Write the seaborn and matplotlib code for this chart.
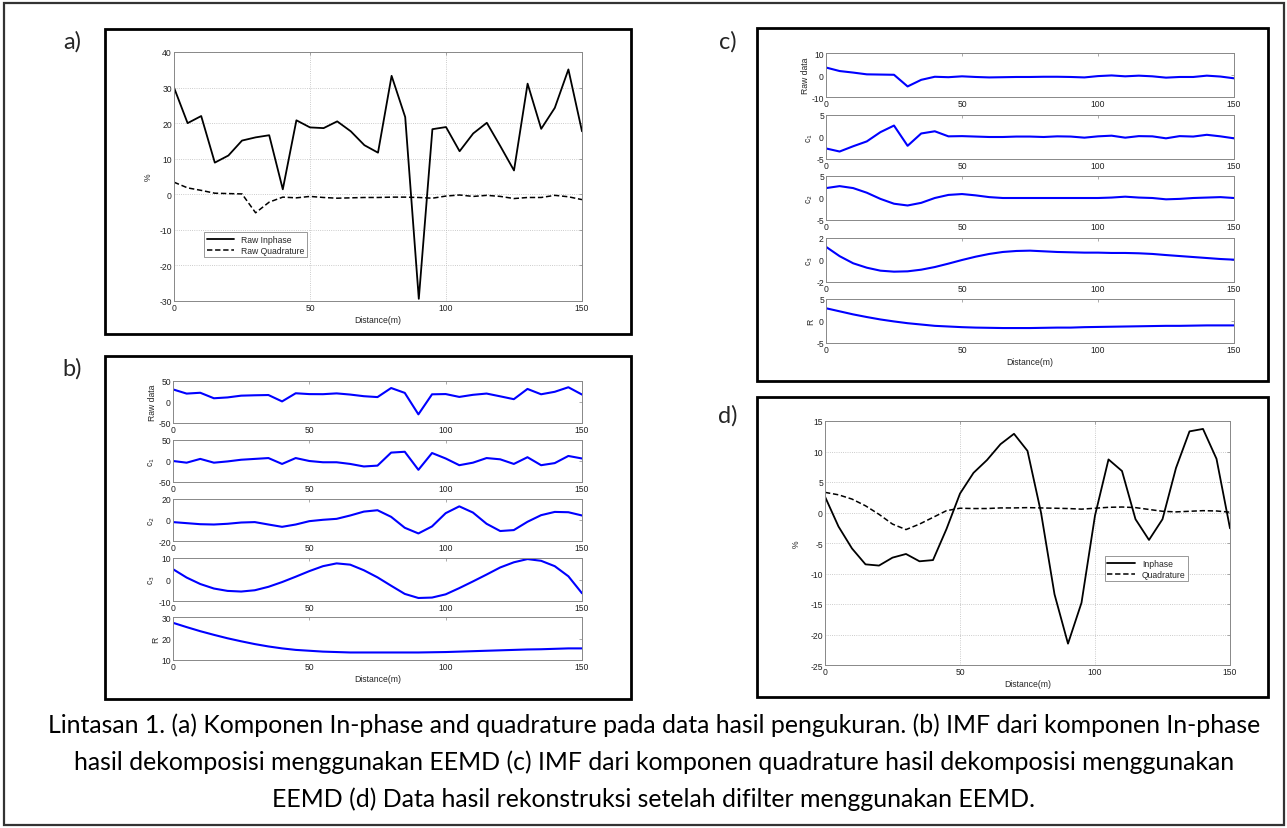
import numpy as np
import pandas as pd
import matplotlib
matplotlib.use('Agg')
import matplotlib.pyplot as plt
import seaborn as sns
from matplotlib.patches import Rectangle

sns.set_theme(style='white')
plt.rcParams['font.family'] = ['Liberation Sans', 'DejaVu Sans']
plt.rcParams['axes.unicode_minus'] = False

W, H = 1287, 829

# distance (m), one reading every 5 m
distance = list(range(0, 155, 5))

# (a) raw measurements
raw_inphase = [30, 20, 22, 8.9, 10.9, 15.1, 16, 16.6, 1.4, 20.8, 18.8, 18.6, 20.5, 17.7, 13.8, 11.7,
               33.3, 21.7, -29.4, 18.3, 18.9, 12.1, 17.1, 20.1, 13.5, 6.7, 31.1, 18.4, 24.3, 35.1, 17.7]
raw_quad = [3.4, 1.8, 1.1, 0.3, 0.2, 0.1, -5.2, -2.2, -0.8, -1.0, -0.6, -0.9, -1.1, -1.0, -0.9, -0.9,
            -0.8, -0.8, -0.9, -1.1, -0.5, -0.2, -0.6, -0.3, -0.6, -1.2, -0.9, -0.9, -0.3, -0.7, -1.5]

# (b) EEMD of in-phase
inp_c1 = [0, -4, 5, -4, -1, 3, 5, 7, -7, 7, 0, -3, -3, -7, -13, -11,
          20, 22, -21, 19, 6, -10, -4, 7, 4, -7, 9, -10, -5, 12, 6]
inp_c2 = [-2, -3, -4, -4.3, -3.6, -2.4, -2, -4.3, -6.5, -4.3, -1.1, 0.2, 1.1, 4.3, 8, 9.3,
          3, -7.4, -12.8, -6.1, 6.5, 13, 7.1, -3.6, -10.5, -9.6, -1.7, 4.6, 7.7, 7.4, 4.3]
inp_c3 = [4.8, 0.9, -2.1, -4.2, -5.3, -5.6, -5, -3.4, -1.2, 1.3, 3.9, 6.2, 7.5, 6.9, 4.3, 1,
          -2.9, -6.7, -8.6, -8.4, -6.9, -4, -0.9, 2.3, 5.6, 8, 9.5, 8.7, 6.2, 1.5, -6.4]
inp_r = [27.3, 25.3, 23.4, 21.7, 20.1, 18.7, 17.4, 16.3, 15.4, 14.7, 14.3, 13.9, 13.7, 13.5, 13.5, 13.5,
         13.5, 13.5, 13.5, 13.6, 13.7, 13.9, 14.1, 14.3, 14.5, 14.7, 14.9, 15.0, 15.2, 15.4, 15.4]

# (c) EEMD of quadrature
quad_c1 = [-2.6, -3.3, -2.1, -1.0, 1.1, 2.6, -2.0, 0.8, 1.3, 0.15, 0.2, 0.1, 0, 0, 0.1, 0.1,
           0, 0.15, 0.1, -0.15, 0.15, 0.3, -0.15, 0.2, 0.15, -0.3, 0.2, 0.1, 0.5, 0.15, -0.3]
quad_c2 = [2.25, 2.7, 2.25, 1.2, -0.2, -1.3, -1.7, -1.1, 0, 0.7, 0.9, 0.6, 0.2, 0, 0, 0,
           0, 0, 0, 0, 0, 0.1, 0.3, 0.1, 0, -0.3, -0.2, 0, 0.1, 0.2, 0]
quad_c3 = [1.2, 0.35, -0.3, -0.7, -0.97, -1.06, -1.03, -0.88, -0.64, -0.33, 0, 0.3, 0.55, 0.73, 0.82, 0.85,
           0.79, 0.73, 0.7, 0.67, 0.67, 0.64, 0.64, 0.61, 0.55, 0.45, 0.36, 0.27, 0.18, 0.09, 0.03]
quad_r = [2.9, 2.2, 1.5, 0.9, 0.35, -0.1, -0.5, -0.8, -1.1, -1.25, -1.4, -1.5, -1.55, -1.6, -1.6, -1.6,
          -1.55, -1.5, -1.5, -1.4, -1.35, -1.3, -1.25, -1.2, -1.15, -1.1, -1.1, -1.05, -1.0, -1.0, -1.0]

# (d) reconstructed after filtering
rec_inphase = [2.6, -2.3, -5.9, -8.5, -8.7, -7.4, -6.8, -8.0, -7.8, -2.7, 3.1, 6.5, 8.6, 11.2, 12.9, 10.1,
               0, -13.4, -21.5, -14.8, -0.5, 8.7, 6.8, -1.1, -4.5, -1.1, 7.3, 13.3, 13.7, 8.8, -2.6]
rec_quad = [3.3, 2.9, 2.2, 1.1, -0.3, -1.9, -2.8, -1.9, -0.8, 0.3, 0.7, 0.65, 0.65, 0.75, 0.75, 0.8,
            0.75, 0.7, 0.65, 0.55, 0.7, 0.85, 0.9, 0.8, 0.5, 0.2, 0.1, 0.2, 0.3, 0.25, 0.05]

caption = [
    'Lintasan 1. (a) Komponen In-phase and quadrature pada data hasil pengukuran. (b) IMF dari komponen In-phase',
    'hasil dekomposisi menggunakan EEMD (c) IMF dari komponen quadrature hasil dekomposisi menggunakan',
    'EEMD (d) Data hasil rekonstruksi setelah difilter menggunakan EEMD.',
]

df = pd.DataFrame({'dist': distance,
                   'raw_inphase': raw_inphase, 'raw_quad': raw_quad,
                   'inp_c1': inp_c1, 'inp_c2': inp_c2, 'inp_c3': inp_c3, 'inp_r': inp_r,
                   'quad_c1': quad_c1, 'quad_c2': quad_c2, 'quad_c3': quad_c3, 'quad_r': quad_r,
                   'rec_inphase': rec_inphase, 'rec_quad': rec_quad})

FS = 6.2


def px(x0, y0, x1, y1):
    return [x0 / W, 1 - y1 / H, (x1 - x0) / W, (y1 - y0) / H]


def box(x0, y0, x1, y1, lw=2.0, color='black'):
    fig.patches.append(Rectangle((x0 / W, 1 - y1 / H), (x1 - x0) / W, (y1 - y0) / H,
                                 transform=fig.transFigure, fill=False, lw=lw, ec=color))


def style_ax(ax, fs=FS):
    for s in ax.spines.values():
        s.set_color('#888888')
        s.set_linewidth(0.7)
    ax.tick_params(direction='in', length=2.5, width=0.5, color='#888888',
                   labelsize=fs, labelcolor='#222222', pad=1.5, top=True, right=True)
    ax.set_xlim(0, 150)
    ax.set_xticks([0, 50, 100, 150])


fig = plt.figure(figsize=(W / 100, H / 100), dpi=100)

# frames
box(4, 4, 1284, 826, lw=1.6, color='#333333')
box(105, 30, 631, 335)
box(105, 357, 631, 700)
box(757, 29, 1268, 382)
box(757, 398, 1268, 698)

for lab, x, y in [('a)', 72, 42), ('b)', 72, 369), ('c)', 728, 42), ('d)', 728, 416)]:
    fig.text(x / W, 1 - y / H, lab, ha='center', va='center', fontsize=17, family='Lato')

# ---- (a)
ax = fig.add_axes(px(174, 53, 582, 302))
sns.lineplot(data=df, x='dist', y='raw_inphase', ax=ax, color='black', lw=1.3, label='Raw Inphase')
sns.lineplot(data=df, x='dist', y='raw_quad', ax=ax, color='black', lw=1.1, ls=(0, (3.5, 1.8)),
             label='Raw Quadrature')
style_ax(ax)
ax.set_ylim(-30, 40)
ax.set_yticks(range(-30, 41, 10))
ax.grid(True, ls=':', color='#bbbbbb', lw=0.6)
ax.set_xlabel('Distance(m)', fontsize=FS, labelpad=2)
ax.set_ylabel('%', fontsize=FS, labelpad=5)
ax.legend(loc='upper left', bbox_to_anchor=(0.0735, 0.277), borderaxespad=0, fontsize=FS,
          fancybox=False, edgecolor='#888888', framealpha=1, handlelength=3.2, borderpad=0.3,
          labelspacing=0.25).get_frame().set_linewidth(0.6)


# ---- (b) and (c)
def stack(x0, x1, rows, cols, ylims, yticks, labels):
    for (y0, y1), col, yl, yt, lab in zip(rows, cols, ylims, yticks, labels):
        a = fig.add_axes(px(x0, y0, x1, y1))
        sns.lineplot(data=df, x='dist', y=col, ax=a, color='#0000ff', lw=1.5)
        style_ax(a)
        a.set_ylim(*yl)
        a.set_yticks(yt)
        a.set_xlabel('')
        a.set_ylabel(lab, fontsize=FS, labelpad=1)
    a.set_xlabel('Distance(m)', fontsize=FS, labelpad=2)


stack(173, 582,
      [(382, 424), (441, 483), (500, 542), (559, 602), (618, 661)],
      ['raw_inphase', 'inp_c1', 'inp_c2', 'inp_c3', 'inp_r'],
      [(-50, 50), (-50, 50), (-20, 20), (-10, 10), (10, 30)],
      [[-50, 0, 50], [-50, 0, 50], [-20, 0, 20], [-10, 0, 10], [10, 20, 30]],
      ['Raw data', 'c$_1$', 'c$_2$', 'c$_3$', 'R'])

stack(826, 1234,
      [(54, 98), (116, 160), (177, 221), (239, 283), (300, 344)],
      ['raw_quad', 'quad_c1', 'quad_c2', 'quad_c3', 'quad_r'],
      [(-10, 10), (-5, 5), (-5, 5), (-2, 2), (-5, 5)],
      [[-10, 0, 10], [-5, 0, 5], [-5, 0, 5], [-2, 0, 2], [-5, 0, 5]],
      ['Raw data', 'c$_1$', 'c$_2$', 'c$_3$', 'R'])

# ---- (d)
ax = fig.add_axes(px(825, 422, 1230, 666))
sns.lineplot(data=df, x='dist', y='rec_inphase', ax=ax, color='black', lw=1.3, label='Inphase')
sns.lineplot(data=df, x='dist', y='rec_quad', ax=ax, color='black', lw=1.1, ls=(0, (3.5, 1.8)),
             label='Quadrature')
style_ax(ax)
ax.set_ylim(-25, 15)
ax.set_yticks(range(-25, 16, 5))
ax.grid(True, ls=':', color='#bbbbbb', lw=0.6)
ax.set_xlabel('Distance(m)', fontsize=FS, labelpad=2)
ax.set_ylabel('%', fontsize=FS, labelpad=7)
ax.legend(loc='upper left', bbox_to_anchor=(0.691, 0.447), borderaxespad=0, fontsize=FS,
          fancybox=False, edgecolor='#888888', framealpha=1, handlelength=3.2, borderpad=0.3,
          labelspacing=0.25).get_frame().set_linewidth(0.6)

# caption
for line, base in zip(caption, [733, 770, 807]):
    fig.text(654 / W, 1 - base / H, line, ha='center', va='baseline', fontsize=17.9,
             family='Lato', color='black')

fig.savefig('out.png', dpi=100, facecolor='white')
